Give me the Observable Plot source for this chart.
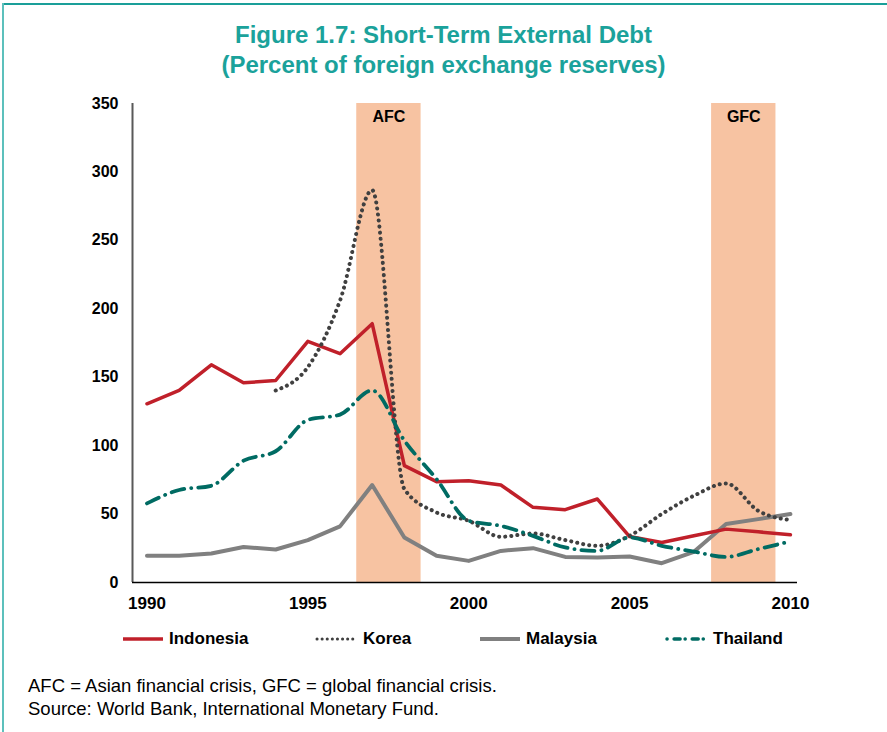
<!DOCTYPE html>
<html>
<head>
<meta charset="utf-8">
<script src="https://cdn.jsdelivr.net/npm/d3@7"></script>
<script src="https://cdn.jsdelivr.net/npm/@observablehq/plot@0.6"></script>
<style>
  html, body { margin: 0; padding: 0; background: #fff; }
  body { width: 887px; height: 732px; position: relative; overflow: hidden; font-family: "Liberation Sans", Arial, sans-serif; }
  #topline { position: absolute; left: 2px; top: 3px; width: 885px; height: 2px; background: #1a9f99; }
  #leftline { position: absolute; left: 2px; top: 3px; width: 1.5px; height: 729px; background: #5cc0bc; }
  #title { position: absolute; left: 0; top: 20px; width: 887px; text-align: center; color: #1ba29b; font-weight: bold; font-size: 24px; line-height: 30px; }
  #chart { position: absolute; left: 0; top: 85px; }
  #legend { position: absolute; top: 627px; left: 0; width: 887px; height: 24px; font-weight: bold; font-size: 17px; }
  .item { position: absolute; top: 0; display: flex; align-items: center; height: 24px; }
  .item svg { margin-right: 4px; }
  #note { position: absolute; left: 28px; top: 674px; font-size: 18.5px; line-height: 23px; color: #000; }
</style>
</head>
<body>
<div id="topline"></div>
<div id="leftline"></div>
<div id="title">Figure 1.7: Short-Term External Debt<br>(Percent of foreign exchange reserves)</div>
<div id="chart"></div>
<div id="legend"></div>
<div id="note">AFC = Asian financial crisis, GFC = global financial crisis.<br>Source: World Bank, International Monetary Fund.</div>
<script>
const years = [1990,1991,1992,1993,1994,1995,1996,1997,1998,1999,2000,2001,2002,2003,2004,2005,2006,2007,2008,2009,2010];
const indonesia = [130.6,140.3,159.1,145.9,147.6,176.2,167.2,189.1,85.4,73.7,74.4,71.2,54.9,53.2,61.0,33.6,29.2,34.1,39.0,37.0,34.9];
const korea     = [null,null,null,null,140.3,157.4,206.0,286.7,68.3,51.2,45.1,33.4,35.8,31.0,26.8,34.1,50.0,63.4,72.4,52.4,45.6];
const malaysia  = [19.5,19.5,21.2,26.0,24.1,31.0,41.0,71.2,32.9,19.5,15.8,23.1,25.1,18.7,18.3,19.0,14.1,22.4,42.7,46.3,50.0];
const thailand  = [57.8,67.6,70.7,89.0,95.9,118.8,122.7,140.3,103.7,75.6,45.1,41.4,34.1,25.6,23.1,32.9,26.8,22.6,18.7,24.4,30.0];

const seriesNames = ["Indonesia","Korea","Malaysia","Thailand"];
const seriesValues = [indonesia, korea, malaysia, thailand];
const seriesColors = ["#c0202a","#404040","#808080","#006b63"];

const crisisLabels = ["AFC","GFC"];
const crisisStart = [1996.52, 2007.55];
const crisisEnd = [1998.52, 2009.55];

const yTicks = [0,50,100,150,200,250,300,350];
const xTicks = [1990,1995,2000,2005,2010];

const shades = crisisLabels.map((l,i) => ({label: l, x1: crisisStart[i], x2: crisisEnd[i]}));
const rows = [];
seriesNames.forEach((s, si) => years.forEach((yr, i) => {
  if (seriesValues[si][i] != null) rows.push({series: s, year: yr, value: seriesValues[si][i]});
}));
const of = s => rows.filter(d => d.series === s);

const xDomain = [1989.55, 2010.22];

const chart = Plot.plot({
  width: 887,
  height: 535,
  marginLeft: 132,
  marginRight: 90,
  marginTop: 18,
  marginBottom: 38,
  style: {fontFamily: '"Liberation Sans", Arial, sans-serif', fontSize: "16px", color: "#000", background: "transparent"},
  x: {domain: xDomain},
  y: {domain: [0, 350]},
  marks: [
    Plot.rect(shades, {x1: "x1", x2: "x2", y1: 0, y2: 350, fill: "#f7c3a2"}),
    Plot.text(shades, {x: d => (d.x1 + d.x2) / 2, y: 350, text: "label", dy: 13, fontWeight: "bold", fontSize: 16, fill: "#000"}),
    Plot.ruleX([xDomain[0]], {stroke: "#595959", strokeWidth: 2}),
    Plot.ruleY([0], {stroke: "#000", strokeWidth: 1.5}),
    Plot.axisX({ticks: xTicks, tickFormat: d => String(d), tickSize: 0, tickPadding: 14, fontWeight: "bold", fontSize: 17, label: null}),
    Plot.axisY({ticks: yTicks, tickSize: 0, tickPadding: 14, fontWeight: "bold", label: null}),
    Plot.line(of("Malaysia"), {x: "year", y: "value", stroke: seriesColors[2], strokeWidth: 4}),
    Plot.line(of("Indonesia"), {x: "year", y: "value", stroke: seriesColors[0], strokeWidth: 3.5}),
    Plot.line(of("Korea"), {x: "year", y: "value", stroke: seriesColors[1], strokeWidth: 4, strokeDasharray: "0.1 6", strokeLinecap: "round", curve: "monotone-x"}),
    Plot.line(of("Thailand"), {x: "year", y: "value", stroke: seriesColors[3], strokeWidth: 3.8, strokeDasharray: "13 7 0.1 7", strokeLinecap: "round", curve: "monotone-x"})
  ]
});
document.getElementById("chart").appendChild(chart);

// legend
const legendX = [121, 315, 478, 665];
const legendDash = [null, "0.1 5", null, "0.1 7 6 5"];
const legendWidth = [3.5, 3, 4, 3.5];
const legend = document.getElementById("legend");
seriesNames.forEach((s, i) => {
  const item = document.createElement("div");
  item.className = "item";
  item.style.left = legendX[i] + "px";
  const ns = "http://www.w3.org/2000/svg";
  const svg = document.createElementNS(ns, "svg");
  svg.setAttribute("width", 44); svg.setAttribute("height", 10);
  const ln = document.createElementNS(ns, "line");
  ln.setAttribute("x1", 2); ln.setAttribute("x2", 42); ln.setAttribute("y1", 5); ln.setAttribute("y2", 5);
  ln.setAttribute("stroke", seriesColors[i]); ln.setAttribute("stroke-width", legendWidth[i]);
  if (legendDash[i]) { ln.setAttribute("stroke-dasharray", legendDash[i]); ln.setAttribute("stroke-linecap", "round"); }
  svg.appendChild(ln);
  item.appendChild(svg);
  const t = document.createElement("span"); t.textContent = s;
  item.appendChild(t);
  legend.appendChild(item);
});
</script>
</body>
</html>
